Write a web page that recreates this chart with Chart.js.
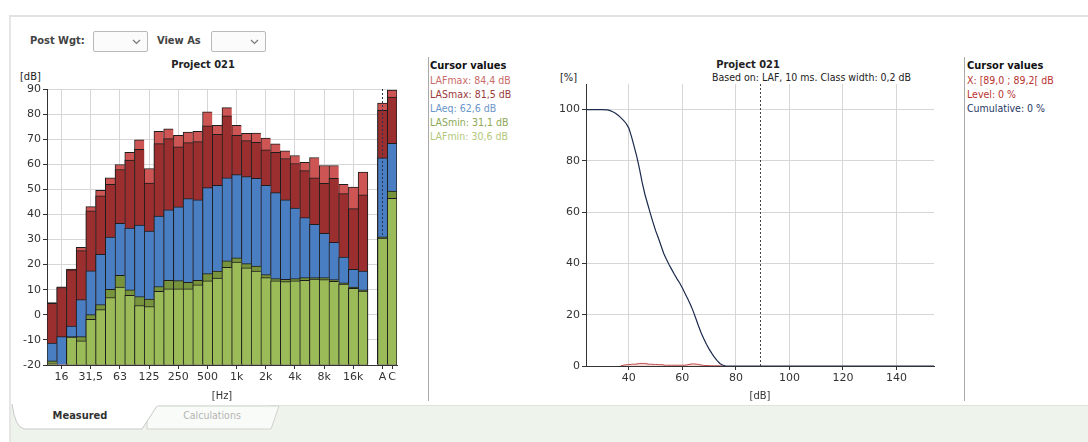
<!DOCTYPE html>
<html>
<head>
<meta charset="utf-8">
<script src="https://cdn.jsdelivr.net/npm/chart.js@4.4.1/dist/chart.umd.min.js"></script>
<style>
  body { margin: 0; width: 1088px; height: 442px; overflow: hidden; position: relative; background: #fff;
         font-family: 'DejaVu Sans Condensed', 'DejaVu Sans', sans-serif; font-size: 10.5px; color: #222; }
  .abs { position: absolute; white-space: nowrap; }
  .frame { left: 9px; top: 15px; right: 0; bottom: 0; border-top: 2px solid #e2e2e2; border-left: 2px solid #e6e6e6; }
  .lbl { font-weight: bold; font-size: 11px; color: #444; }
  .dd { width: 53px; height: 19px; border: 1px solid #b9b9b9; border-radius: 2px; background: #fbfbfb; }
  .dd svg { position: absolute; right: 6px; top: 7px; }
  .title { font-weight: bold; font-size: 11px; color: #222; }
  .sep { width: 1px; background: #a9a9a9; }
  .cv div { line-height: 14px; }
  canvas { position: absolute; }
</style>
</head>
<body>
<div class="abs frame"></div>

<div class="abs lbl" style="left:30px; top:34px;">Post Wgt:</div>
<div class="abs dd" style="left:93px; top:31px;"><svg width="9" height="6"><polyline points="1,1 4.5,4.5 8,1" fill="none" stroke="#777" stroke-width="1.2"/></svg></div>
<div class="abs lbl" style="left:157px; top:34px;">View As</div>
<div class="abs dd" style="left:211px; top:31px;"><svg width="9" height="6"><polyline points="1,1 4.5,4.5 8,1" fill="none" stroke="#777" stroke-width="1.2"/></svg></div>

<div class="abs title" style="left:0; width:406px; text-align:center; top:58px;">Project 021</div>
<div class="abs" style="left:20px; top:70px; font-size:11px;">[dB]</div>
<canvas id="bandChart" width="400" height="329" style="left:0; top:80px; width:400px; height:329px;"></canvas>

<div class="abs sep" style="left:428px; top:57px; height:344px;"></div>
<div class="abs cv" style="left:430px; top:59px;">
  <div style="font-weight:bold; font-size:11px; color:#111;">Cursor values</div>
  <div id="cvLeft"></div>
</div>

<div class="abs title" style="left:700px; width:96px; text-align:center; top:58px;">Project 021</div>
<div class="abs" style="left:712px; top:71px;">Based on: LAF, 10 ms. Class width: 0,2 dB</div>
<div class="abs" style="left:560px; top:71px; font-size:11px;">[%]</div>
<canvas id="distChart" width="410" height="334" style="left:530px; top:75px; width:410px; height:334px;"></canvas>

<div class="abs sep" style="left:964px; top:57px; height:344px;"></div>
<div class="abs cv" style="left:967px; top:59px;">
  <div style="font-weight:bold; font-size:11px; color:#111;">Cursor values</div>
  <div style="color:#b8322f;">X: [89,0 ; 89,2[ dB</div>
  <div style="color:#b8322f;">Level: 0 %</div>
  <div style="color:#1f3864;">Cumulative: 0 %</div>
</div>

<svg class="abs" style="left:0; top:400px;" width="1088" height="42">
  <rect x="11" y="5" width="1077" height="37" fill="#eef3ec"/>
  <line x1="270" y1="5.5" x2="1088" y2="5.5" stroke="#dfe5dc"/>
  <path d="M147 29 Q146 11 154 6 L279 6 L271 29 Z" fill="#f9fbf8" stroke="#cfd3cd"/>
  <path d="M12 0 L12 4 Q15 27 24 29 L142 29 L158 5 L158 0 Z" fill="#fff"/>
  <path d="M12 4 Q15 27 24 29 L142 29 L157 6" fill="none" stroke="#c9c9c9"/>
  <text x="80" y="19" text-anchor="middle" font-family="DejaVu Sans Condensed, DejaVu Sans" font-weight="bold" font-size="11" fill="#333">Measured</text>
  <text x="212" y="19" text-anchor="middle" font-family="DejaVu Sans Condensed, DejaVu Sans" font-size="10.5" fill="#b4b4b4">Calculations</text>
</svg>

<script>
// third-octave bands, one empty slot, then the A and C totals
const bands = ['12,5','16','20','25','31,5','40','50','63','80','100','125','160','200','250','315','400',
  '500','630','800','1k','1,25k','1,6k','2k','2,5k','3,15k','4k','5k','6,3k','8k','10k','12,5k','16k','20k','','A','C'];
const octaveTicks = ['16','31,5','63','125','250','500','1k','2k','4k','8k','16k'];
const totalTicks = ['A','C'];

const lafMax = [4.9, 11.2, 18.2, 26.9, 43.1, 49.6, 54.6, 59.9, 64.8, 69.7, 58.3, 73.1, 74.1, 71.5, 72.8, 73.1,
  80.9, 75.5, 82.6, 75.5, 72.3, 72.4, 70.4, 68.1, 65.4, 63.5, 60.8, 62.7, 59.5, 59.5, 52.0, 50.9, 56.9, null, 84.4, 89.6];
const lasMax = [4.6, 10.9, 17.9, 25.6, 41.4, 47.4, 52.0, 57.9, 61.7, 66.0, 52.5, 68.2, 70.2, 67.0, 68.6, 69.0,
  75.3, 71.9, 79.3, 71.5, 69.4, 68.7, 65.8, 64.8, 62.3, 60.3, 57.5, 54.6, 52.4, 54.4, 48.3, 42.3, 47.8, null, 81.5, 86.8];
const laEq = [-11.3, -8.7, -4.5, 6.1, 17.5, 24.1, 31.0, 36.5, 34.6, 35.8, 33.4, 39.4, 41.8, 43.0, 46.3, 45.8,
  50.7, 51.6, 54.6, 55.9, 55.1, 54.4, 51.6, 48.7, 45.8, 42.5, 38.8, 36.1, 32.5, 28.9, 23.0, 18.1, 17.4, null, 62.6, 68.3];
const lasMin = [-18.3, null, -8.7, -8.7, 0.1, 4.1, 10.2, 15.7, 10.0, 7.3, 6.3, 11.3, 13.7, 13.6, 12.9, 13.7,
  16.4, 17.4, 21.5, 22.7, 20.4, 19.4, 16.0, 14.4, 14.1, 14.4, 14.8, 14.8, 14.8, 14.0, 12.7, 11.1, 10.0, null, 31.1, 49.3];
const lafMin = [-19.3, null, -8.9, -10.4, -1.8, 2.1, 6.9, 11.1, 7.8, 3.7, 3.3, 9.4, 10.4, 10.4, 10.4, 12.0,
  13.5, 14.6, 18.9, 21.0, 18.7, 17.4, 14.8, 13.5, 13.2, 13.5, 13.7, 14.2, 14.0, 13.3, 12.3, 10.6, 9.5, null, 30.6, 46.4];
const cursorBand = 'A';

// level distribution (cumulative) and level histogram
const cumLevels = [24, 30, 32, 33, 34, 35, 36, 37, 38, 39, 40, 41, 42, 43, 44, 45, 46, 47, 48, 49, 50, 51, 52, 53, 54,
  55, 56, 57, 58, 59, 60, 61, 62, 63, 64, 65, 66, 67, 68, 69, 70, 71, 72, 73, 74, 75, 76, 77, 154];
const cumPercent = [100, 100, 99.9, 99.6, 99.2, 98.6, 97.8, 96.9, 95.8, 94.6, 92.8, 89.5, 85.6, 81.6, 76.8, 71.5, 67.0,
  63.3, 59.6, 56.1, 52.8, 50.0, 47.0, 44.0, 41.7, 39.6, 37.7, 35.8, 34.0, 32.4, 30.4, 28.3, 26.2, 24.0, 21.5, 18.6,
  15.7, 13.0, 10.6, 8.5, 6.6, 4.9, 3.4, 2.1, 1.0, 0.4, 0.1, 0, 0];
const histLevels = [37, 38, 39, 40, 41, 42, 43, 44, 45, 46, 47, 48, 49, 50, 51, 52, 53, 54, 56, 58, 60, 61, 62, 63, 64,
  65, 66, 67, 68, 70, 72, 74, 75];
const histPercent = [0.2, 0.4, 0.5, 0.6, 0.7, 0.7, 0.9, 1.0, 1.0, 0.9, 0.7, 0.7, 0.6, 0.6, 0.5, 0.5, 0.3, 0.3, 0.3, 0.3,
  0.3, 0.4, 0.6, 0.8, 0.8, 0.7, 0.5, 0.3, 0.2, 0.1, 0.1, 0.05, 0];
const levelTicks = [40, 60, 80, 100, 120, 140];
const percentTicks = [0, 20, 40, 60, 80, 100];
const cursorLevel = 89.1;

Chart.defaults.font.family = "'DejaVu Sans', sans-serif";
Chart.defaults.font.size = 11;
Chart.defaults.color = '#333';
Chart.defaults.animation = false;

const condensed = { family: "'DejaVu Sans Condensed', 'DejaVu Sans', sans-serif", size: 11 };
const noColor = 'rgba(0,0,0,0)';

// cursor values text on the left
const cursorIdx = bands.indexOf(cursorBand);
const fmt = v => v.toFixed(1).replace('.', ',');
const cvRows = [
  ['LAFmax', lafMax[cursorIdx], '#c96b68'],
  ['LASmax', lasMax[cursorIdx], '#9a3b3b'],
  ['LAeq', laEq[cursorIdx], '#6b96c9'],
  ['LASmin', lasMin[cursorIdx], '#8ea857'],
  ['LAFmin', lafMin[cursorIdx], '#b3c77c']
];
document.getElementById('cvLeft').innerHTML = cvRows
  .map(r => `<div style="color:${r[2]}">${r[0]}: ${fmt(r[1])} dB</div>`).join('');

// dotted vertical cursor
const cursorLine = {
  id: 'cursorLine',
  afterDatasetsDraw(chart, args, opts) {
    const x = Math.round(chart.scales.x.getPixelForValue(opts.value)) + 0.5;
    const top = chart.chartArea.top;
    const bottom = opts.to != null ? chart.scales.y.getPixelForValue(opts.to) : chart.chartArea.bottom;
    const ctx = chart.ctx;
    ctx.save();
    ctx.strokeStyle = opts.color;
    ctx.lineWidth = 1;
    ctx.setLineDash([2, 2]);
    ctx.beginPath();
    ctx.moveTo(x, top);
    ctx.lineTo(x, bottom);
    ctx.stroke();
    ctx.restore();
  }
};

const layer = (label, data, color) => ({
  label: label,
  data: data,
  backgroundColor: color,
  borderColor: '#1d1d1d',
  borderWidth: ctx => {
    const next = bands[ctx.dataIndex + 1];
    return { top: 1, left: 1, bottom: 0, right: (next === undefined || next === '') ? 1 : 0 };
  },
  base: -20,
  grouped: false,
  categoryPercentage: 1,
  barPercentage: 1
});

// first dataset is drawn on top
new Chart(document.getElementById('bandChart'), {
  type: 'bar',
  data: {
    labels: bands,
    datasets: [
      layer('LAFmin', lafMin, '#9bbb59'),
      layer('LASmin', lasMin, '#77933c'),
      layer('LAeq', laEq, '#4a7ec3'),
      layer('LASmax', lasMax, '#9b2f2f'),
      layer('LAFmax', lafMax, '#cd5654')
    ]
  },
  options: {
    responsive: false,
    layout: { padding: { top: 9, right: 3, bottom: 6, left: 0 } },
    scales: {
      x: {
        afterFit: s => { s.height = 38; },
        grid: {
          offset: false,
          color: ctx => octaveTicks.includes(bands[ctx.index]) ? '#d6d6d6' : noColor,
          tickColor: ctx => (octaveTicks.includes(bands[ctx.index]) || totalTicks.includes(bands[ctx.index])) ? '#333' : noColor,
          tickLength: 4
        },
        border: { color: '#333' },
        ticks: {
          autoSkip: false, maxRotation: 0, padding: 2,
          callback: function (v) {
            const l = this.getLabelForValue(v);
            return (octaveTicks.includes(l) || totalTicks.includes(l)) ? l : '';
          }
        },
        title: { display: true, text: '[Hz]', font: condensed, padding: 0 }
      },
      y: {
        min: -20, max: 90,
        afterFit: s => { s.width = 47; },
        ticks: { stepSize: 10, padding: 2 },
        grid: { color: '#d6d6d6', tickColor: '#333', tickLength: 4 },
        border: { color: '#333' }
      }
    },
    plugins: {
      legend: { display: false },
      tooltip: { enabled: false },
      cursorLine: { value: cursorIdx, to: lasMin[cursorIdx], color: '#2b3550' }
    }
  },
  plugins: [cursorLine]
});

new Chart(document.getElementById('distChart'), {
  type: 'line',
  data: {
    datasets: [
      {
        label: 'Cumulative',
        data: cumLevels.map((x, i) => ({ x: x, y: cumPercent[i] })),
        borderColor: '#1b2a4d',
        borderWidth: 1.2,
        pointRadius: 0
      },
      {
        label: 'Level',
        data: histLevels.map((x, i) => ({ x: x, y: histPercent[i] })),
        stepped: true,
        fill: 'origin',
        borderColor: '#c0504d',
        backgroundColor: 'rgba(226,170,168,0.45)',
        borderWidth: 1,
        pointRadius: 0
      }
    ]
  },
  options: {
    responsive: false,
    layout: { padding: { top: 9, right: 6, bottom: 6, left: 0 } },
    scales: {
      x: {
        type: 'linear', min: 24, max: 154,
        afterBuildTicks: s => { s.ticks = levelTicks.map(v => ({ value: v })); },
        afterFit: s => { s.height = 37; },
        grid: { color: '#d6d6d6', tickColor: '#333', tickLength: 4 },
        border: { color: '#333' },
        ticks: { padding: 2 },
        title: { display: true, text: '[dB]', font: condensed, padding: 0 }
      },
      y: {
        min: 0, max: 110,
        afterBuildTicks: s => { s.ticks = percentTicks.map(v => ({ value: v })); },
        afterFit: s => { s.width = 56; },
        grid: { color: ctx => ctx.tick && ctx.tick.value === 0 ? noColor : '#d6d6d6', tickColor: '#333', tickLength: 4 },
        border: { color: '#333' },
        ticks: { padding: 2 }
      }
    },
    plugins: {
      legend: { display: false },
      tooltip: { enabled: false },
      cursorLine: { value: cursorLevel, color: '#444' }
    }
  },
  plugins: [cursorLine]
});
</script>
</body>
</html>
